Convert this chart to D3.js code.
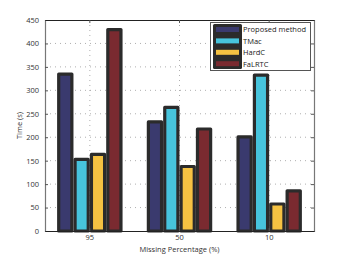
<!DOCTYPE html>
<html>
<head>
<meta charset="utf-8">
<script src="https://cdn.jsdelivr.net/npm/d3@7"></script>
<style>
  body { margin: 0; background: #fff; }
  svg { display: block; font-family: "Open Sans", "DejaVu Sans", sans-serif; }
</style>
</head>
<body>
<svg id="svg" width="347" height="260"></svg>
<script>
'use strict';

const categories = ['95', '50', '10'];
const seriesNames = ['Proposed method', 'TMac', 'HardC', 'FaLRTC'];
const seriesColors = ['#3a3a6e', '#47c4dc', '#f5c242', '#7a2a30'];
const proposed = [338, 236, 204];
const tmac = [156, 267, 336];
const hardc = [167, 141, 61];
const falrtc = [433, 221, 89];
const yTicks = [0, 50, 100, 150, 200, 250, 300, 350, 400, 450];

const BORDER = '#2b2b2b';
const margin = { left: 45, right: 33, top: 20, bottom: 29 };
const W = 347, H = 260;

const svg = d3.select('#svg');

const x0 = d3.scaleBand()
  .domain(categories)
  .range([margin.left, W - margin.right])
  .paddingInner(0.27)
  .paddingOuter(0.135);

const x1 = d3.scaleBand()
  .domain(seriesNames)
  .range([0, x0.bandwidth()]);

const y = d3.scaleLinear()
  .domain([0, 450])
  .range([H - margin.bottom, margin.top]);

const values = [proposed, tmac, hardc, falrtc];
const data = categories.flatMap((c, i) =>
  seriesNames.map((s, j) => ({ cat: c, series: s, value: values[j][i], color: seriesColors[j] })));

// Grid
const grid = svg.append('g').attr('stroke', '#9a9a9a').attr('stroke-dasharray', '1,4').attr('stroke-width', 0.8);
grid.selectAll('line.h')
  .data(yTicks.slice(1, -1))
  .join('line')
  .attr('x1', margin.left).attr('x2', W - margin.right)
  .attr('y1', d => y(d)).attr('y2', d => y(d));
grid.selectAll('line.v')
  .data(categories)
  .join('line')
  .attr('x1', d => x0(d) + x0.bandwidth() / 2).attr('x2', d => x0(d) + x0.bandwidth() / 2)
  .attr('y1', margin.top).attr('y2', H - margin.bottom);

// Bars
svg.append('g')
  .selectAll('rect')
  .data(data)
  .join('rect')
  .attr('x', d => x0(d.cat) + x1(d.series) + 1.6)
  .attr('y', d => y(d.value) + 1.6)
  .attr('width', x1.bandwidth() - 3.2)
  .attr('height', d => y(0) - y(d.value) - 1.6)
  .attr('fill', d => d.color)
  .attr('stroke', BORDER)
  .attr('stroke-width', 3.2)
  .attr('stroke-linejoin', 'round');

// Axes
const yAxisL = svg.append('g')
  .attr('transform', `translate(${margin.left},0)`)
  .call(d3.axisLeft(y).tickValues(yTicks).tickSize(-3).tickPadding(6));
const yAxisR = svg.append('g')
  .attr('transform', `translate(${W - margin.right},0)`)
  .call(d3.axisRight(y).tickValues(yTicks).tickSize(-3).tickFormat(''));
const xAxis = svg.append('g')
  .attr('transform', `translate(0,${H - margin.bottom})`)
  .call(d3.axisBottom(x0).tickSize(-3).tickPadding(4).tickSizeOuter(0));
const xTop = svg.append('g')
  .attr('transform', `translate(0,${margin.top})`)
  .call(d3.axisTop(x0).tickSize(-3).tickFormat('').tickSizeOuter(0));

[yAxisL, yAxisR, xAxis, xTop].forEach(g => {
  g.select('.domain').attr('stroke', '#777').attr('stroke-width', 1.2);
  g.selectAll('.tick line').attr('stroke', '#555');
  g.selectAll('text').attr('font-size', 7.5).attr('fill', '#333').attr('font-family', '"Open Sans", sans-serif');
});
xAxis.select('.domain').attr('stroke', '#222');
xTop.select('.domain').attr('stroke', '#222');

// Axis labels
svg.append('text')
  .attr('transform', `translate(22,${(margin.top + H - margin.bottom) / 2}) rotate(-90)`)
  .attr('text-anchor', 'middle')
  .attr('font-size', 7.5)
  .attr('fill', '#333')
  .text('Time (s)');
svg.append('text')
  .attr('x', (margin.left + W - margin.right) / 2)
  .attr('y', 251.5)
  .attr('text-anchor', 'middle')
  .attr('font-size', 7.5)
  .attr('fill', '#333')
  .text('Missing Percentage (%)');

// Legend
const legend = svg.append('g');
legend.append('rect')
  .attr('x', 210.5).attr('y', 22.5).attr('width', 100).attr('height', 48)
  .attr('fill', '#fff').attr('stroke', '#555').attr('stroke-width', 1);
legend.append('rect')
  .attr('x', 213).attr('y', 24).attr('width', 29).attr('height', 45)
  .attr('fill', BORDER).attr('rx', 1.5);
const rows = legend.selectAll('g.row')
  .data(seriesNames)
  .join('g')
  .attr('transform', (d, i) => `translate(0,${29.5 + i * 11.4})`);
rows.append('rect')
  .attr('x', 216).attr('y', -2.5).attr('width', 23).attr('height', 5)
  .attr('fill', (d, i) => seriesColors[i]);
rows.append('text')
  .attr('x', 243).attr('y', 2.8)
  .attr('font-size', 7.5)
  .attr('fill', '#222')
  .text(d => d);
</script>
</body>
</html>
